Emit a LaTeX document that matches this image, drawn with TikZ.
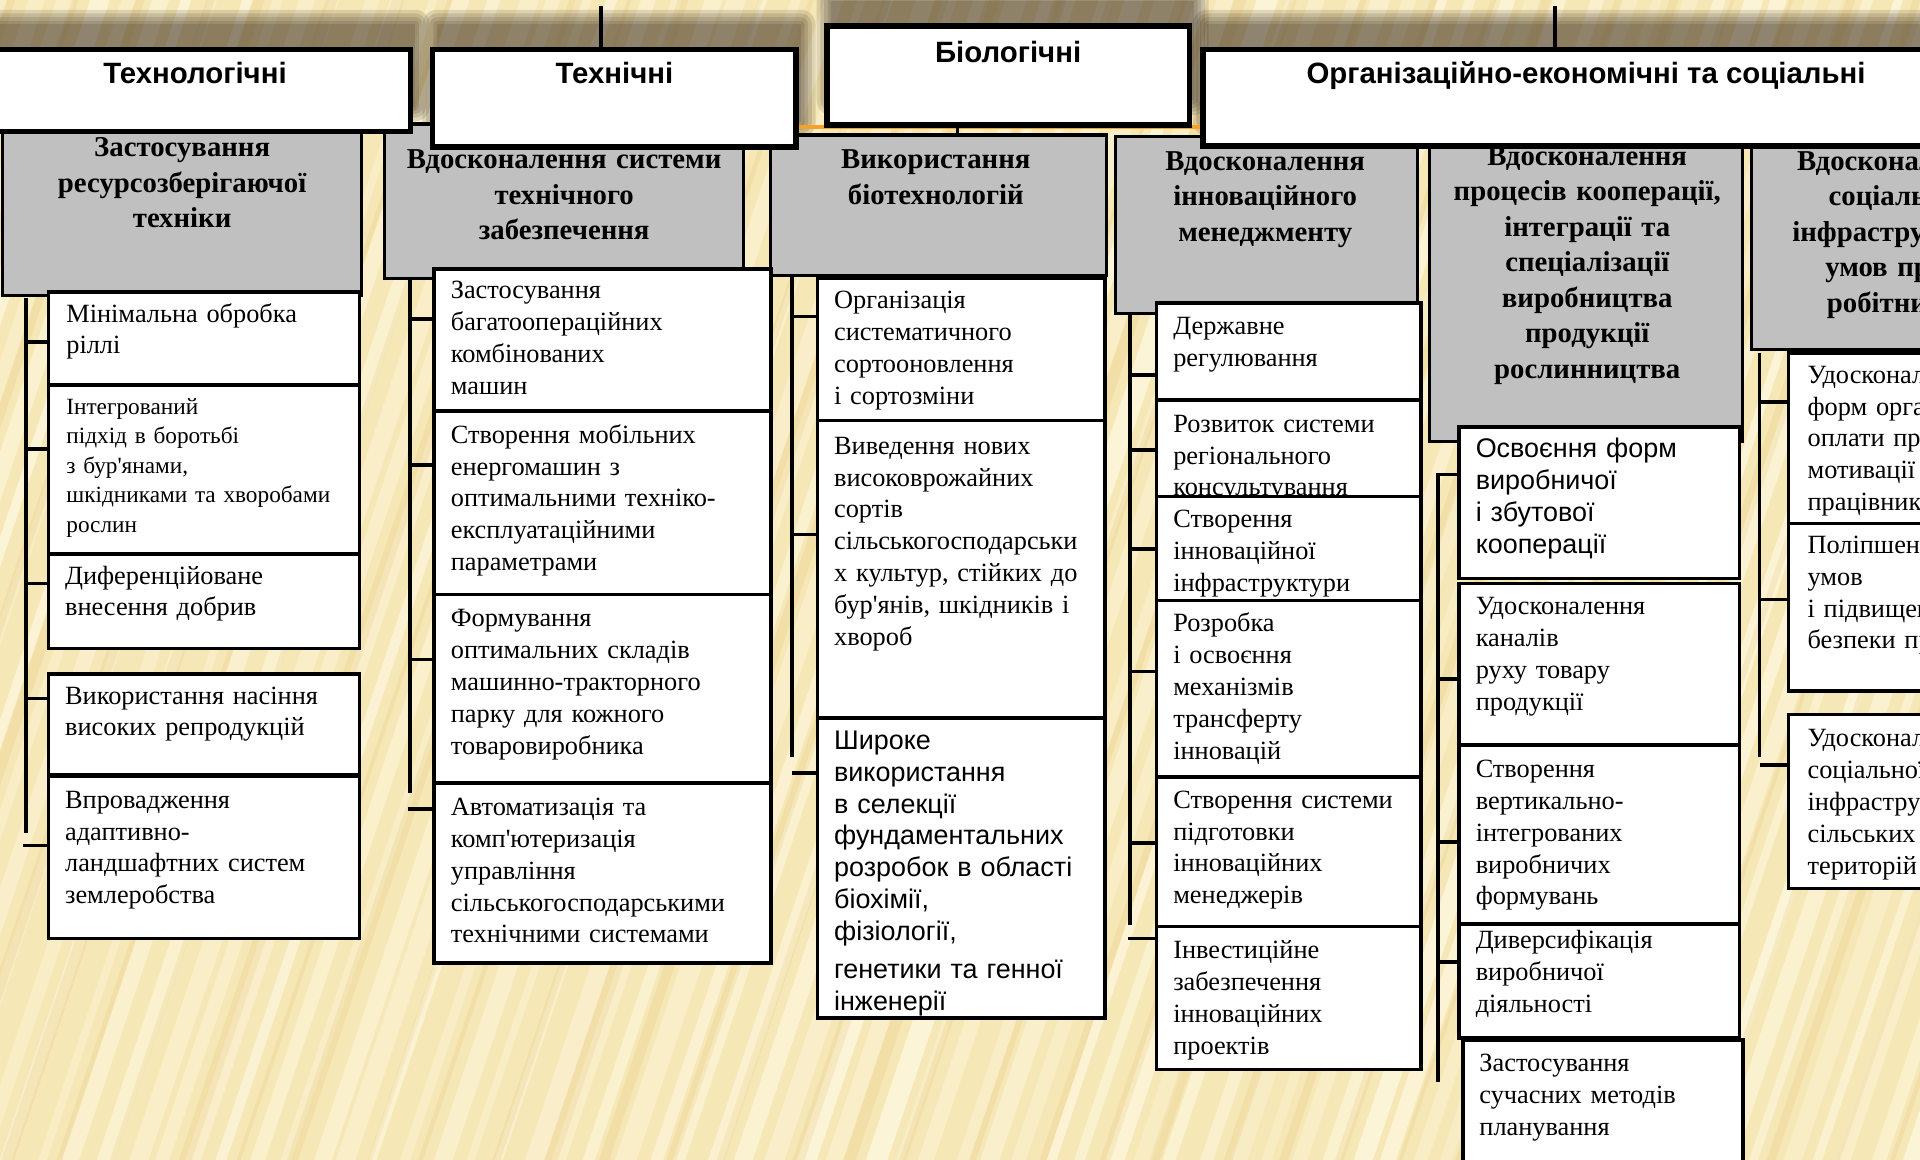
\documentclass[tikz,border=0pt]{standalone}
\usepackage{fontspec}
\setmainfont{Liberation Serif}
\newfontfamily\arialfont{Liberation Sans}
\usetikzlibrary{calc}

\definecolor{bgtan}{RGB}{246,231,182}
\definecolor{bglight}{RGB}{254,248,224}
\definecolor{bggold}{RGB}{226,192,115}
\definecolor{hdgray}{RGB}{192,192,192}
\definecolor{orangerule}{RGB}{245,160,40}

\tikzset{
  topbox/.style={draw, line width=4.5pt, fill=white, inner sep=0pt, anchor=north west},
  hdbox/.style={draw, line width=2.5pt, fill=hdgray, inner sep=0pt, anchor=north west},
  itembox/.style={draw, line width=3pt, fill=white, inner sep=0pt, anchor=north west},
  toptext/.style={font=\arialfont\bfseries\fontsize{24}{28}\selectfont, inner sep=0pt, anchor=base},
  hdtext/.style={font=\bfseries\fontsize{23.5}{29}\selectfont, text width=330pt, align=center, inner sep=0pt, anchor=base},
  itemtext/.style={font=\fontsize{21.5}{26}\selectfont, text width=320pt, align=left, inner sep=0pt, anchor=base west},
  smalltext/.style={itemtext, font=\fontsize{19}{24}\selectfont},
  sanstext/.style={itemtext, font=\arialfont\fontsize{22}{26}\selectfont},
  link/.style={line width=3pt},
}
\def\topshadow(#1,#2)(#3,#4){\foreach \s in {0,3,...,12}{\fill[black!80!brown, opacity=0.13, rounded corners=\s] (#1-\s,#2-\s) rectangle (#3+\s,#4+\s);}}

\begin{document}
\begin{tikzpicture}[x=1pt, y=-1pt]
			%%%%% START %%%%%
			\useasboundingbox (0,0) rectangle (1568,947);
			\clip (0,0) rectangle (1568,947);
			
			\fill[bgtan] (0,0) rectangle (1568,947);
			\pgfmathsetseed{11}
			\foreach \k in {0,...,80}{
				\pgfmathsetmacro\sx{-380+\k*25+rnd*8}
				\pgfmathsetmacro\sw{6+rnd*12}
				\pgfmathsetmacro\so{0.3+0.5*rnd}
				\fill[bglight, opacity=\so] (\sx,960) -- ++(\sw,0) -- ++(330,-980) -- ++(-\sw,0) -- cycle;
			}
			\foreach \k in {0,...,40}{
				\pgfmathsetmacro\sx{-370+\k*50+rnd*20}
				\pgfmathsetmacro\sw{3+rnd*8}
				\fill[bggold, opacity=0.2] (\sx,960) -- ++(\sw,0) -- ++(330,-980) -- ++(-\sw,0) -- cycle;
			}
			
			\topshadow(-13,20)(339,87)
			\topshadow(357,20)(654,100)
			\topshadow(679,1)(975,82)
			\topshadow(986,20)(1612,99)
			
			\draw[line width=3.5pt, color=orangerule] (0,103.5) -- (1568,103.5);
			
			\node[hdbox, minimum width=293, minimum height=133] (hd1) at (1,107) {};
			\node[hdtext] (hd1t) at ([shift={(0,21)}]hd1.north) {Застосування\\ресурсозберігаючої\\техніки};
			\node[hdbox, minimum width=293, minimum height=126] (hd2) at (313,100) {};
			\node[hdtext] (hd2t) at ([shift={(0,38)}]hd2.north) {Вдосконалення системи\\технічного\\забезпечення};
			\node[hdbox, minimum width=274, minimum height=115] (hd3) at (628,109) {};
			\node[hdtext] (hd3t) at ([shift={(-2,29)}]hd3.north) {Використання\\біотехнологій};
			\node[hdbox, minimum width=246, minimum height=145] (hd4) at (910,110) {};
			\node[hdtext] (hd4t) at ([shift={(-1,29)}]hd4.north) {Вдосконалення\\інноваційного\\менеджменту};
			\node[hdbox, minimum width=256, minimum height=249] (hd5) at (1166,110) {};
			\node[hdtext] (hd5t) at ([shift={(1,25)}]hd5.north) {Вдосконалення\\процесів кооперації,\\інтеграції та\\спеціалізації\\виробництва\\продукції\\рослинництва};
			\node[hdbox, minimum width=238, minimum height=174] (hd6) at (1429,110) {};
			\node[hdtext] (hd6t) at ([shift={(0,29)}]hd6.north) {Вдосконалення\\соціальної\\інфраструктури\\умов праці\\робітників};
			
			\coordinate (s1t) at (21,243);   \coordinate (s1b) at (21,680);
			\coordinate (s2t) at (335,227);  \coordinate (s2b) at (335,648);
			\coordinate (s3t) at (647,226);  \coordinate (s3b) at (647,618);
			\coordinate (s4t) at (923,257);  \coordinate (s4b) at (923,755);
			\coordinate (s5t) at (1174.5,386); \coordinate (s5b) at (1174.5,884);
			\coordinate (s6t) at (1437,288); \coordinate (s6b) at (1437,618);
			\draw[link] (s1t) -- (s1b);
			\draw[link] (s2t) -- (s2b);
			\draw[link] (s3t) -- (s3b);
			\draw[link] (s4t) -- (s4b);
			\draw[link] (s5t) -- (s5b);
			\draw[link] (s6t) -- (s6b);
			
			\node[itembox, minimum width=254, minimum height=76] (b11) at (38,237) {};
			\node[itemtext] (b11t) at ([shift={(16,26)}]b11.north west) {Мінімальна обробка\\ріллі};
			\node[itembox, minimum width=254, minimum height=138] (b12) at (38,313) {};
			\node[smalltext] (b12t) at ([shift={(16,25.5)}]b12.north west) {Інтегрований\\підхід в боротьбі\\з бур\textquotesingle янами,\\шкідниками та хворобами\\рослин};
			\node[itembox, minimum width=254, minimum height=77] (b13) at (38,451) {};
			\node[itemtext] (b13t) at ([shift={(15,26)}]b13.north west) {Диференційоване\\внесення добрив};
			\node[itembox, minimum width=254, minimum height=82] (b14) at (38,549) {};
			\node[itemtext] (b14t) at ([shift={(15,26)}]b14.north west) {Використання насіння\\високих репродукцій};
			\node[itembox, minimum width=254, minimum height=133] (b15) at (38,632) {};
			\node[itemtext] (b15t) at ([shift={(15,28)}]b15.north west) {Впровадження\\адаптивно-\\ландшафтних систем\\землеробства};
			
			\node[itembox, minimum width=275, minimum height=116] (b21) at (353,218) {};
			\node[itemtext] (b21t) at ([shift={(15,26)}]b21.north west) {Застосування\\багатоопераційних\\комбінованих\\машин};
			\node[itembox, minimum width=275, minimum height=150] (b22) at (353,334) {};
			\node[itemtext] (b22t) at ([shift={(15,28)}]b22.north west) {Створення мобільних\\енергомашин з\\оптимальними техніко-\\експлуатаційними\\параметрами};
			\node[itembox, minimum width=275, minimum height=154] (b23) at (353,484) {};
			\node[itemtext] (b23t) at ([shift={(15,28)}]b23.north west) {Формування\\оптимальних складів\\машинно-тракторного\\парку для кожного\\товаровиробника};
			\node[itembox, minimum width=275, minimum height=147] (b24) at (353,638) {};
			\node[itemtext] (b24t) at ([shift={(15,28)}]b24.north west) {Автоматизація та\\комп\textquotesingle ютеризація\\управління\\сільськогосподарськими\\технічними системами};
			
			\node[itembox, minimum width=235, minimum height=116] (b31) at (666,226) {};
			\node[itemtext] (b31t) at ([shift={(15,26)}]b31.north west) {Організація\\систематичного\\сортооновлення\\і сортозміни};
			\node[itembox, minimum width=235, minimum height=243] (b32) at (666,342) {};
			\node[itemtext] (b32t) at ([shift={(15,29)}]b32.north west) {Виведення нових\\високоврожайних\\сортів\\сільськогосподарськи\\х культур, стійких до\\бур\textquotesingle янів, шкідників і\\хвороб};
			\node[itembox, minimum width=235, minimum height=245] (b33) at (666,585) {};
			\node[sanstext] (b33t) at ([shift={(15,27)}]b33.north west) {Широке\\використання\\в селекції\\фундаментальних\\розробок в області\\біохімії,\\фізіології,\\[5pt]генетики та генної\\інженерії};
			
			\node[itembox, minimum width=216, minimum height=79] (b41) at (943,246) {};
			\node[itemtext] (b41t) at ([shift={(15,27)}]b41.north west) {Державне\\регулювання};
			\node[itembox, minimum width=216, minimum height=79] (b42) at (943,325) {};
			\node[itemtext] (b42t) at ([shift={(15,28)}]b42.north west) {Розвиток системи\\регіонального\\консультування};
			\node[itembox, minimum width=216, minimum height=85] (b43) at (943,404) {};
			\node[itemtext] (b43t) at ([shift={(15,27)}]b43.north west) {Створення\\інноваційної\\інфраструктури};
			\node[itembox, minimum width=216, minimum height=144] (b44) at (943,489) {};
			\node[itemtext] (b44t) at ([shift={(15,27)}]b44.north west) {Розробка\\і освоєння\\механізмів\\трансферту\\інновацій};
			\node[itembox, minimum width=216, minimum height=122] (b45) at (943,633) {};
			\node[itemtext] (b45t) at ([shift={(15,27)}]b45.north west) {Створення системи\\підготовки\\інноваційних\\менеджерів};
			\node[itembox, minimum width=216, minimum height=117] (b46) at (943,755) {};
			\node[itemtext] (b46t) at ([shift={(15,28)}]b46.north west) {Інвестиційне\\забезпечення\\інноваційних\\проектів};
			
			\node[itembox, minimum width=229, minimum height=124] (b51) at (1190,347) {};
			\node[sanstext] (b51t) at ([shift={(15,27)}]b51.north west) {Освоєння форм\\виробничої\\і збутової\\кооперації};
			\node[itembox, minimum width=229, minimum height=132] (b52) at (1190,475) {};
			\node[itemtext] (b52t) at ([shift={(15,27)}]b52.north west) {Удосконалення\\каналів\\руху товару\\продукції};
			\node[itembox, minimum width=229, minimum height=146] (b53) at (1190,607) {};
			\node[itemtext] (b53t) at ([shift={(15,28)}]b53.north west) {Створення\\вертикально-\\інтегрованих\\виробничих\\формувань};
			\node[itembox, minimum width=229, minimum height=93] (b54) at (1190,753) {};
			\node[itemtext] (b54t) at ([shift={(15,22)}]b54.north west) {Диверсифікація\\виробничої\\діяльності};
			\node[itembox, minimum width=229, minimum height=110] (b55) at (1193,848) {};
			\node[itemtext] (b55t) at ([shift={(15,27)}]b55.north west) {Застосування\\сучасних методів\\планування};
			
			\node[itembox, minimum width=260, minimum height=139] (b61) at (1459,287) {};
			\node[itemtext] (b61t) at ([shift={(17,26)}]b61.north west) {Удосконалення\\форм організації\\оплати праці та\\мотивації\\працівників};
			\node[itembox, minimum width=260, minimum height=137] (b62) at (1459,426) {};
			\node[itemtext] (b62t) at ([shift={(17,26)}]b62.north west) {Поліпшення\\умов\\і підвищення\\безпеки праці};
			\node[itembox, minimum width=260, minimum height=142] (b63) at (1459,582) {};
			\node[itemtext] (b63t) at ([shift={(17,28)}]b63.north west) {Удосконалення\\соціальної\\інфраструктури\\сільських\\територій};
			
			\draw[link] ([shift={(0,3)}]b11.west) -- ++(-17,0);
			\draw[link] ([shift={(0,-17)}]b12.west) -- ++(-17,0);
			\draw[link] ([shift={(0,-14.5)}]b13.west) -- ++(-17,0);
			\draw[link] ([shift={(0,-21)}]b14.west) -- ++(-17,0);
			\draw[link] ([shift={(0,-9.5)}]b15.west) -- ++(-19,0);
			
			\draw[link] ([shift={(0,-17)}]b21.west) -- ++(-18,0);
			\draw[link] ([shift={(0,-31)}]b22.west) -- ++(-18,0);
			\draw[link] ([shift={(0,-24)}]b23.west) -- ++(-18,0);
			\draw[link] ([shift={(0,-52.5)}]b24.west) -- ++(-20,0);
			
			\draw[link] ([shift={(0,-27)}]b31.west) -- ++(-19,0);
			\draw[link] ([shift={(0,-28.5)}]b32.west) -- ++(-19,0);
			\draw[link] ([shift={(0,-77.5)}]b33.west) -- ++(-19,0);
			
			\draw[link] ([shift={(0,19.5)}]b41.west) -- ++(-20,0);
			\draw[link] ([shift={(0,1.5)}]b42.west) -- ++(-20,0);
			\draw[link] ([shift={(0,0.5)}]b43.west) -- ++(-20,0);
			\draw[link] ([shift={(0,-14)}]b44.west) -- ++(-20,0);
			\draw[link] ([shift={(0,-7)}]b45.west) -- ++(-20,0);
			\draw[link] ([shift={(0,-48.5)}]b46.west) -- ++(-22,0);
			
			\draw[link] ([shift={(0,-23)}]b51.west) -- ++(-17,0);
			\draw[link] ([shift={(0,12)}]b52.west) -- ++(-15.5,0);
			\draw[link] ([shift={(0,6)}]b53.west) -- ++(-15.5,0);
			\draw[link] ([shift={(0,-15.5)}]b54.west) -- ++(-15.5,0);
			
			\draw[link] ([shift={(0,-29.5)}]b61.west) -- ++(-22,0);
			\draw[link] ([shift={(0,-6.5)}]b62.west) -- ++(-22,0);
			\draw[link] ([shift={(0,-30)}]b63.west) -- ++(-22,0);
			
			\node[topbox, minimum width=352, minimum height=67] (top1) at (-19,38) {};
			\node[toptext] (top1t) at ([shift={(0,30)}]top1.north) {Технологічні};
			\node[topbox, minimum width=297, minimum height=80] (top2) at (351,38) {};
			\node[toptext] (top2t) at ([shift={(0,30)}]top2.north) {Технічні};
			\node[topbox, minimum width=296, minimum height=81] (top3) at (673,19) {};
			\node[toptext] (top3t) at ([shift={(0,32)}]top3.north) {Біологічні};
			\node[topbox, minimum width=626, minimum height=79] (top4) at (980,38) {};
			\node[toptext] (top4t) at ([shift={(0,30)}]top4.north) {Організаційно-економічні та соціальні};
			
			\coordinate (up2) at (491,5);
			\coordinate (up4) at (1270,5);
			\coordinate (dn3) at (782,110);
			\draw[link] (up2) -- (up2 |- top2.north);
			\draw[link] (up4) -- (up4 |- top4.north);
			\draw[link] (dn3) -- (dn3 |- top3.south);
			
			%%%%% END %%%%%
\end{tikzpicture}
\end{document}
